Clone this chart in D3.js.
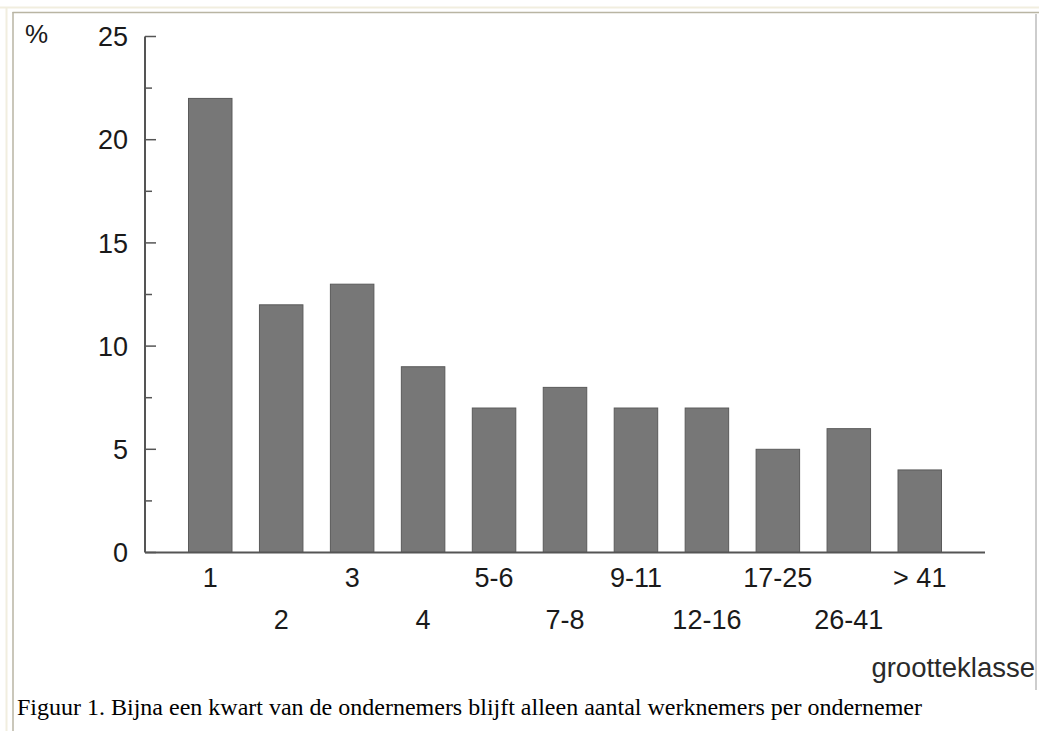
<!DOCTYPE html>
<html>
<head>
<meta charset="utf-8">
<script src="https://cdn.jsdelivr.net/npm/d3@7"></script>
<style>
  html, body { margin: 0; padding: 0; background: #ffffff; }
  svg { display: block; }
</style>
</head>
<body>
<svg id="chart" width="1039" height="731"></svg>
<script>
const categories = ["1", "2", "3", "4", "5-6", "7-8", "9-11", "12-16", "17-25", "26-41", "> 41"];
const values = [22, 12, 13, 9, 7, 8, 7, 7, 5, 6, 4];
const majorTicks = [0, 5, 10, 15, 20, 25];
const minorTicks = [2.5, 7.5, 12.5, 17.5, 22.5];
const yUnit = "%";
const xTitle = "grootteklasse";
const caption = "Figuur 1. Bijna een kwart van de ondernemers blijft alleen aantal werknemers per ondernemer";

const svg = d3.select("#chart");
const sans = "'Liberation Sans', Arial, Helvetica, sans-serif";
const serif = "'Liberation Serif', 'Times New Roman', serif";
const textColor = "#1a1a1a";
const axisColor = "#555555";

// frame lines
svg.append("line").attr("x1", 0).attr("x2", 1039).attr("y1", 7.5).attr("y2", 7.5)
  .attr("stroke", "#f1eedf").attr("stroke-width", 2);
svg.append("line").attr("x1", 12.5).attr("x2", 1039).attr("y1", 12.5).attr("y2", 12.5)
  .attr("stroke", "#b9b5a3").attr("stroke-width", 1.5);
svg.append("line").attr("x1", 6.5).attr("x2", 6.5).attr("y1", 7).attr("y2", 731)
  .attr("stroke", "#f1eedf").attr("stroke-width", 2);
svg.append("line").attr("x1", 13).attr("x2", 13).attr("y1", 12).attr("y2", 731)
  .attr("stroke", "#b9b5a3").attr("stroke-width", 1.5);
svg.append("line").attr("x1", 1036).attr("x2", 1036).attr("y1", 14).attr("y2", 690)
  .attr("stroke", "#bdbdbd").attr("stroke-width", 1.5);

const x = d3.scaleBand().domain(categories).range([145, 985])
  .paddingInner(0.387).paddingOuter(0.613);
const y = d3.scaleLinear().domain([0, 25]).range([552.5, 36.5]);

// bars
svg.append("g").selectAll("rect").data(values).join("rect")
  .attr("x", (d, i) => x(categories[i]))
  .attr("y", d => y(d))
  .attr("width", x.bandwidth())
  .attr("height", d => y(0) - y(d))
  .attr("fill", "#777777")
  .attr("stroke", "#5a5a5a")
  .attr("stroke-width", 1);

// y axis
const yAxis = svg.append("g").attr("transform", "translate(145,0)");
yAxis.append("line").attr("x1", 0).attr("x2", 0).attr("y1", y(25)).attr("y2", y(0))
  .attr("stroke", axisColor).attr("stroke-width", 2);
yAxis.selectAll(".maj").data(majorTicks).join("line").attr("class", "maj")
  .attr("x1", 0).attr("x2", 11).attr("y1", d => y(d)).attr("y2", d => y(d))
  .attr("stroke", axisColor).attr("stroke-width", 1.5);
yAxis.selectAll(".min").data(minorTicks).join("line").attr("class", "min")
  .attr("x1", 0).attr("x2", 7).attr("y1", d => y(d)).attr("y2", d => y(d))
  .attr("stroke", axisColor).attr("stroke-width", 1.5);
yAxis.selectAll("text").data(majorTicks).join("text")
  .attr("x", -17).attr("y", d => y(d)).attr("dy", "0.36em")
  .attr("text-anchor", "end")
  .attr("font-family", sans).attr("font-size", 27).attr("fill", textColor)
  .text(d => d);

// x axis
svg.append("line").attr("x1", 145).attr("x2", 985).attr("y1", y(0)).attr("y2", y(0))
  .attr("stroke", axisColor).attr("stroke-width", 2);
svg.append("g").selectAll("text").data(categories).join("text")
  .attr("x", d => x(d) + x.bandwidth() / 2)
  .attr("y", (d, i) => i % 2 === 0 ? 587 : 629)
  .attr("text-anchor", "middle")
  .attr("font-family", sans).attr("font-size", 27).attr("fill", textColor)
  .text(d => d);

// unit & titles
svg.append("text").attr("x", 25).attr("y", 43)
  .attr("font-family", sans).attr("font-size", 26).attr("fill", textColor).text(yUnit);
svg.append("text").attr("x", 1035).attr("y", 677).attr("text-anchor", "end")
  .attr("font-family", sans).attr("font-size", 27.5).attr("fill", "#2a2a2a").text(xTitle);
svg.append("text").attr("x", 17).attr("y", 715)
  .attr("font-family", serif).attr("font-size", 24).attr("fill", "#000").text(caption);
</script>
</body>
</html>
